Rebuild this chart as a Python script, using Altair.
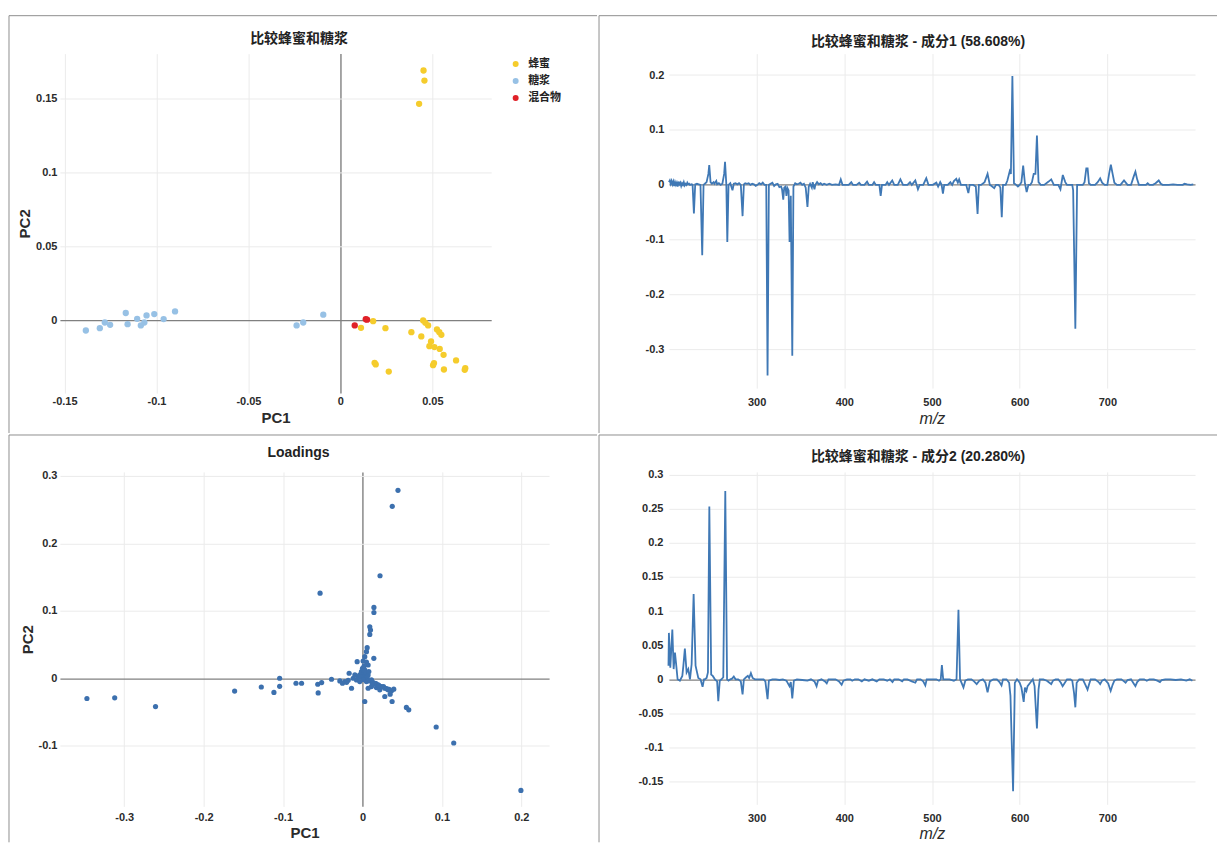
import altair as alt
import pandas as pd

# ---------------- data ----------------
group_names = ["蜂蜜", "糖浆", "混合物"]
group_colors = ["#F5CC2C", "#97C1E5", "#E02128"]

honey_pc1 = [0.0452, 0.0457, 0.0428, 0.0112, 0.0178, 0.0245, 0.0386, 0.0440, 0.0450, 0.0462,
             0.0477, 0.0525, 0.0538, 0.0549, 0.0493, 0.0484, 0.0511, 0.0540, 0.0561, 0.0629,
             0.0679, 0.0676, 0.0186, 0.0192, 0.0263, 0.0504, 0.0509, 0.0563]
honey_pc2 = [0.1686, 0.1618, 0.1461, -0.0050, -0.0005, -0.0052, -0.0079, -0.0108, 0.0000, -0.0016,
             -0.0034, -0.0061, -0.0079, -0.0097, -0.0142, -0.0174, -0.0180, -0.0192, -0.0232, -0.0270,
             -0.0322, -0.0333, -0.0286, -0.0297, -0.0345, -0.0302, -0.0288, -0.0331]
syrup_pc1 = [-0.1384, -0.1308, -0.1281, -0.1252, -0.1167, -0.1157, -0.1105, -0.1085, -0.1066,
             -0.1054, -0.1012, -0.0961, -0.0899, -0.0238, -0.0202, -0.0093]
syrup_pc2 = [-0.0068, -0.0052, -0.0014, -0.0030, 0.0050, -0.0025, 0.0011, -0.0034, -0.0014,
             0.0034, 0.0043, 0.0009, 0.0061, -0.0034, -0.0014, 0.0039]
mix_pc1 = [0.0078, 0.0138, 0.0145]
mix_pc2 = [-0.0034, 0.0008, 0.0005]

load_pc1 = [-0.347, -0.312, -0.2606, -0.161, -0.1274, -0.1115, -0.1043, -0.1043, -0.0837, -0.0767,
            -0.0563, -0.0558, -0.0514, -0.0534, -0.039, -0.0285, -0.0252, -0.0222, -0.0138, -0.0168,
            -0.0117, -0.0075, -0.0055, -0.0034, -0.0034, -0.0013, -0.0096, -0.0067, 0.0, 0.0008,
            0.0017, 0.0029, 0.0034, 0.005, 0.0071, 0.0071, 0.0071, 0.005, 0.0059, 0.0092,
            0.0101, 0.0092, 0.0143, 0.0144, 0.0144, 0.0221, 0.0375, 0.0447, 0.0113, 0.0113,
            0.0155, 0.0176, 0.0197, 0.0218, 0.0239, 0.0281, 0.0281, 0.0323, 0.0348, 0.0365,
            0.0394, 0.0373, 0.0029, 0.0553, 0.0583, 0.0928, 0.1149, 0.1995, 0.0025, 0.004,
            0.006, 0.009, -0.002, 0.001, 0.003, 0.008, -0.018, -0.02, 0.013, 0.017,
            0.002, 0.005, 0.0265, 0.0305, 0.0335, 0.0205, 0.0125]
load_pc2 = [-0.030, -0.029, -0.042, -0.019, -0.013, -0.021, 0.0, -0.012, -0.0074, -0.0074,
            -0.0089, -0.0218, -0.0064, 0.1262, -0.0015, -0.0039, -0.0074, -0.0049, -0.0148, 0.0074,
            0.0, -0.0025, 0.0025, 0.0049, -0.0049, 0.0098, 0.0049, 0.0246, 0.0148, 0.0256,
            0.0074, 0.032, 0.0, -0.0049, 0.0049, 0.0197, -0.0148, 0.0394, 0.0453, 0.065,
            0.0714, 0.0763, 0.0295, 0.0975, 0.105, 0.152, 0.255, 0.2787, -0.0025, -0.0123,
            -0.0074, -0.0138, -0.0098, -0.0172, -0.0123, -0.0148, -0.0271, -0.0172, -0.0236, -0.0187,
            -0.0162, -0.0345, -0.0345, -0.0433, -0.0468, -0.0723, -0.096, -0.1663, 0.003, 0.008,
            0.002, -0.004, 0.002, -0.002, 0.012, 0.010, -0.003, -0.006, -0.006, -0.008,
            0.018, 0.024, -0.0125, -0.0155, -0.0165, -0.0105, -0.0085]

# component 1 spectrum: (m/z, loading)
spectrum1 = [
    (200, 0.005), (201, 0.008), (202, 0.002), (203, 0.007), (204, 0.001), (205, 0.006), (206, -0.002),
    (207, 0.005), (208, 0.0), (209, 0.004), (210, -0.003), (211, 0.006), (212, 0.001), (213, 0.004),
    (214, -0.002), (215, 0.003), (216, 0.0), (217, 0.005), (218, -0.001), (219, 0.002), (220, 0.0),
    (221, 0.004), (222, 0.001), (223, 0.002), (224, 0.0), (226, 0.001), (227, 0.0), (228.5, -0.052),
    (230, 0.001), (232, 0.002), (234, 0.001), (236, 0.0), (238, -0.128), (239.5, 0.0), (241, 0.002),
    (243, 0.005), (245, 0.02), (246, 0.036), (247.5, 0.005), (249, 0.002), (251, 0.005), (252, 0.002),
    (254, 0.007), (255, 0.001), (257, 0.003), (259, 0.0), (261, 0.002), (263, 0.02), (264, 0.042),
    (265.5, 0.0), (266.6, -0.104), (268, 0.0), (270, 0.003), (272.5, -0.01), (274, 0.002), (276, 0.003),
    (278, 0.001), (280, 0.003), (282, 0.0), (284, -0.057), (285.5, 0.001), (287, 0.003), (289, 0.002),
    (291, 0.003), (293, 0.0), (295, 0.002), (297, 0.001), (299, -0.002), (301, 0.0), (303, 0.003),
    (305, 0.001), (307, 0.004), (309, 0.0), (311, 0.0), (312.5, -0.347), (314, 0.0), (316, 0.002),
    (318, 0.004), (320, -0.002), (322, 0.001), (324, 0.002), (326, -0.004), (328, -0.003), (329, -0.008),
    (330.4, -0.027), (331.5, -0.005), (333, -0.003), (334, -0.02), (335.3, -0.006), (336.5, -0.01),
    (337.6, -0.104), (339, -0.02), (340.7, -0.311), (342, -0.003), (344, 0.003), (346, 0.001),
    (348, 0.002), (350, 0.004), (352, 0.0), (354, 0.002), (356, -0.005), (358, -0.04), (359.5, -0.003),
    (361, 0.002), (363, -0.005), (364, 0.005), (366, -0.008), (367, 0.0), (369, 0.005), (371, 0.001),
    (373, 0.003), (375, 0.0), (377, 0.002), (380, 0.0), (383, 0.002), (386, 0.0), (390, 0.001),
    (394, 0.0), (396, 0.01), (398, 0.0), (402, 0.0), (405, 0.0), (408, 0.005), (410, 0.0), (414, 0.0),
    (417, 0.004), (419, 0.0), (423, 0.0), (426, 0.006), (428, 0.0), (432, 0.0), (434, 0.005), (436, 0.0),
    (440, 0.0), (441.5, -0.02), (443, 0.0), (447, 0.0), (449, 0.005), (451, 0.0), (454.7, 0.008),
    (457, 0.0), (461, 0.0), (464, 0.01), (467, 0.0), (472, 0.0), (475, 0.005), (477, 0.0), (481, 0.008),
    (484, -0.008), (486, 0.0), (490, 0.0), (493.5, 0.012), (496, 0.0), (501, 0.0), (505, 0.004),
    (507, -0.003), (509.4, 0.005), (511, 0.0), (512.5, -0.016), (514, 0.0), (518, 0.0), (521, 0.005),
    (523, 0.0), (525, 0.007), (527.7, 0.011), (529.5, 0.004), (531, 0.01), (533, 0.0), (536, 0.0),
    (539, 0.0), (541.5, -0.015), (543, 0.0), (547, 0.0), (550, -0.003), (552, -0.053), (553.5, 0.0),
    (556, 0.0), (560, 0.005), (563.4, 0.02), (566, 0.0), (568, -0.002), (571, -0.006), (573, 0.0),
    (576, 0.0), (578, -0.005), (579.6, -0.059), (581, 0.0), (584, 0.0), (586, 0.008), (588.7, 0.025),
    (590, 0.02), (591.7, 0.198), (593.5, 0.003), (596, 0.0), (598, -0.003), (600, 0.0), (602, 0.005),
    (604, 0.035), (606, 0.003), (608, -0.013), (610, 0.0), (612, 0.0), (614, 0.005), (616, 0.02),
    (618, 0.02), (619.7, 0.09), (621.5, 0.005), (624, 0.0), (628, 0.0), (633, 0.006), (636, 0.01),
    (639, 0.0), (642, 0.0), (644, 0.0), (646.5, -0.008), (649.2, 0.018), (652, 0.005), (654, 0.0),
    (657, 0.0), (660, 0.0), (661, -0.01), (663.5, -0.262), (665.5, 0.0), (668, 0.0), (672, 0.0),
    (674, 0.005), (676, 0.03), (677.5, 0.03), (679, 0.003), (681, 0.0), (686, 0.0), (689, 0.005),
    (691.8, 0.012), (694, 0.004), (697, 0.0), (700, 0.0), (702, 0.02), (704, 0.037), (706, 0.02),
    (708, 0.004), (711, 0.0), (715, 0.0), (717, 0.004), (719, 0.008), (721, 0.004), (723, 0.0),
    (727, 0.0), (730, 0.015), (732, 0.024), (734, 0.01), (736, 0.0), (740, 0.0), (744, 0.0),
    (746, 0.003), (748, 0.0), (752, 0.0), (755, 0.003), (758.6, 0.008), (761, 0.002), (763, 0.0),
    (770, 0.0), (775, 0.001), (780, 0.0), (786, 0.0), (788, 0.002), (791, 0.001), (795, 0.0), (798, 0.001),
]

# component 2 spectrum: (m/z, loading)
spectrum2 = [
    (199.5, 0.02), (200, 0.068), (201.6, 0.017), (203.9, 0.073), (205.4, 0.015), (206.9, 0.039),
    (208.4, 0.02), (209.9, 0.0), (212.5, -0.002), (215.3, 0.005), (216.5, 0.02), (218.2, 0.045),
    (220.2, 0.01), (222.1, 0.015), (224, 0.0), (225.9, 0.022), (228.2, 0.125), (230.4, 0.02),
    (233.5, 0.002), (236, 0.0), (238.4, -0.011), (240, 0.0), (241, 0.0), (243, 0.002), (244.5, 0.01),
    (246.1, 0.253), (248.2, 0.007), (250, 0.005), (252.5, 0.0), (255, -0.003), (256.3, -0.032),
    (258, -0.002), (260, 0.0), (262, 0.003), (264.3, 0.276), (266.3, 0.0), (268, -0.002), (270, 0.0),
    (272, 0.001), (274, 0.004), (276, 0.0), (279, 0.0), (282, -0.003), (284, -0.022), (285.5, 0.0),
    (288, 0.003), (290, 0.005), (291.5, 0.002), (293.5, 0.009), (295.5, 0.002), (298, 0.0), (303, 0.0),
    (308, 0.0), (310, -0.003), (312.5, -0.029), (314, -0.002), (318, 0.0), (322, 0.0), (326, -0.001),
    (330, 0.0), (334, -0.002), (337.5, -0.01), (339, -0.004), (340.7, -0.028), (342.5, -0.002),
    (346, 0.0), (352, -0.001), (358, -0.002), (362, 0.0), (366, -0.003), (368.4, -0.01), (370, -0.002),
    (374, 0.0), (378, -0.003), (380, -0.006), (382, 0.0), (386, 0.0), (390, 0.0), (394, -0.003),
    (397, -0.008), (399, -0.002), (403, 0.0), (407, 0.0), (409, -0.002), (412, 0.0), (416, 0.0),
    (420, -0.003), (423, 0.0), (428, -0.002), (432, 0.0), (437, -0.003), (440, 0.0), (445, 0.0),
    (449, -0.002), (452, 0.0), (455, -0.004), (457, 0.0), (462, 0.0), (466, -0.003), (468, 0.0),
    (472, 0.0), (477, -0.003), (481, -0.005), (483, 0.0), (487, 0.0), (490, -0.003), (492.4, -0.009),
    (494, 0.0), (500, 0.0), (505, 0.0), (508, -0.002), (510, 0.0), (511.3, 0.021), (512.8, 0.0),
    (515, 0.0), (520, 0.0), (525, -0.002), (528, 0.0), (530.2, 0.102), (532, 0.0), (534, -0.006),
    (535.9, -0.012), (538, -0.002), (541, 0.0), (545, 0.0), (548, -0.003), (551, -0.007), (554, -0.002),
    (558, 0.0), (561, -0.005), (563.4, -0.019), (566, -0.003), (570, 0.0), (574, 0.0), (577, -0.004),
    (579.3, -0.009), (581, 0.0), (585, 0.0), (588, -0.005), (589.5, -0.024), (592.5, -0.164),
    (594.5, -0.005), (597, 0.0), (600, -0.005), (602, -0.012), (604.6, -0.033), (606, -0.012),
    (607.7, -0.017), (609, -0.01), (612, -0.005), (615, 0.0), (617, -0.01), (619.7, -0.072),
    (621.5, -0.015), (623, 0.0), (627, 0.0), (631, -0.002), (634, -0.005), (636, -0.007), (638, -0.002),
    (641, 0.0), (644, 0.0), (647, -0.005), (649, -0.01), (651, -0.006), (654, 0.0), (658, 0.0),
    (660, -0.002), (662, -0.02), (663.5, -0.041), (665, -0.005), (668, 0.0), (672, 0.0), (675, -0.008),
    (677.4, -0.015), (679, -0.008), (681, 0.0), (686, 0.0), (690, -0.004), (691.8, -0.007), (694, -0.002),
    (697, 0.0), (701, -0.006), (703.8, -0.017), (706, -0.008), (708, -0.002), (711, 0.0), (716, 0.0),
    (719, -0.003), (720.8, -0.005), (723, -0.001), (727, 0.0), (730, -0.006), (732, -0.01), (734, -0.004),
    (737, 0.0), (742, 0.0), (745, -0.002), (748, 0.0), (753, 0.0), (757, -0.002), (760, -0.004),
    (762, -0.001), (766, 0.0), (772, 0.0), (778, -0.001), (784, 0.0), (790, -0.002), (794, 0.0), (797, -0.002),
]

panel_titles = ["比较蜂蜜和糖浆", "比较蜂蜜和糖浆 - 成分1 (58.608%)", "Loadings",
                "比较蜂蜜和糖浆 - 成分2 (20.280%)"]
scores_x_ticks = [-0.15, -0.1, -0.05, 0, 0.05]
scores_y_ticks = [0, 0.05, 0.1, 0.15]
load_x_ticks = [-0.3, -0.2, -0.1, 0, 0.1, 0.2]
load_y_ticks = [-0.1, 0, 0.1, 0.2, 0.3]
mz_ticks = [300, 400, 500, 600, 700]
spec1_y_ticks = [-0.3, -0.2, -0.1, 0, 0.1, 0.2]
spec2_y_ticks = [-0.15, -0.1, -0.05, 0, 0.05, 0.1, 0.15, 0.2, 0.25, 0.3]

# ---------------- tables ----------------
scores_df = pd.DataFrame({
    "PC1": honey_pc1 + syrup_pc1 + mix_pc1,
    "PC2": honey_pc2 + syrup_pc2 + mix_pc2,
    "group": [group_names[0]] * len(honey_pc1) + [group_names[1]] * len(syrup_pc1)
             + [group_names[2]] * len(mix_pc1),
})
load_df = pd.DataFrame({"PC1": load_pc1, "PC2": load_pc2})
spec1_df = pd.DataFrame(spectrum1, columns=["mz", "val"])
spec2_df = pd.DataFrame(spectrum2, columns=["mz", "val"])
one_df = pd.DataFrame({"k": [0]})

FONT = 'Liberation Sans, "Noto Sans CJK SC", sans-serif'
BORDER = "#8f8f8f"
ZERO = "#808080"
LINE = "#3F78B5"
LABEL_EXPR = "replace(format(datum.value, '~g'), '\u2212', '-')"
GRID_COLOR = {"condition": {"test": "datum.value === 0", "value": ZERO}, "value": "#ebebeb"}
GRID_WIDTH = {"condition": {"test": "datum.value === 0", "value": 1.4}, "value": 1}


def borders(left, top, right, bottom):
    base = alt.Chart(one_df)
    return [
        base.mark_rule(color=BORDER, strokeWidth=1).encode(
            x=alt.value(left), x2=alt.value(right), y=alt.value(top)),
        base.mark_rule(color=BORDER, strokeWidth=1).encode(
            x=alt.value(left), y=alt.value(top), y2=alt.value(bottom)),
        base.mark_rule(color=BORDER, strokeWidth=1, opacity=0).encode(
            x=alt.value(right), y=alt.value(top), y2=alt.value(bottom)),
        base.mark_rule(color=BORDER, strokeWidth=1, opacity=0).encode(
            x=alt.value(left), x2=alt.value(right), y=alt.value(bottom)),
    ]


def head(text, cx, cy):
    return alt.Chart(one_df).mark_text(
        text=text, font=FONT, fontSize=14, fontWeight="bold", color="#222222",
        align="center", baseline="middle").encode(x=alt.value(cx), y=alt.value(cy))


def axis(values, title, lp, tp, zero_line=False, italic=False, title_size=15):
    kw = dict(values=values, title=title, labelExpr=LABEL_EXPR, labelPadding=lp,
              titlePadding=tp, grid=True, domain=False, ticks=False, titleFontSize=title_size)
    if zero_line:
        kw.update(gridColor=GRID_COLOR, gridWidth=GRID_WIDTH)
    if italic:
        kw.update(titleFontStyle="italic", titleFontWeight="normal")
    return alt.Axis(**kw)


# ---- panel 1: scores ----
pts = alt.Chart(scores_df).mark_circle(size=40, opacity=1).encode(
    x=alt.X("PC1:Q", scale=alt.Scale(domain=[-0.1525, 0.082], nice=False, zero=False),
            axis=axis(scores_x_ticks, "PC1", 2, 4, zero_line=True)),
    y=alt.Y("PC2:Q", scale=alt.Scale(domain=[-0.049, 0.18], nice=False, zero=False),
            axis=axis(scores_y_ticks, "PC2", 3, 3, zero_line=True)),
    color=alt.Color("group:N", scale=alt.Scale(domain=group_names, range=group_colors),
                    legend=alt.Legend(orient="none", legendX=451, legendY=5, title=None,
                                      labelFont=FONT, labelFontSize=11, labelFontWeight="bold",
                                      symbolType="circle", symbolSize=36, rowPadding=5,
                                      labelOffset=7, labelColor="#222222")),
)
p1 = alt.layer(*borders(-51, -38, 538, 380), head(panel_titles[0], 239.5, -15), pts).properties(
    width=432, height=340)

# ---- panel 2: component 1 ----
line1 = alt.Chart(spec1_df).mark_line(color=LINE, strokeWidth=1.8).encode(
    x=alt.X("mz:Q", scale=alt.Scale(domain=[200, 800], nice=False, zero=False),
            axis=axis(mz_ticks, "m/z", 8, 3, italic=True, title_size=16)),
    y=alt.Y("val:Q", scale=alt.Scale(domain=[-0.37, 0.239], nice=False, zero=False),
            axis=axis(spec1_y_ticks, None, 5, 4, zero_line=True)),
)
p2 = alt.layer(*borders(-70, -38, 549, 380), head(panel_titles[1], 249.5, -11.5), line1).properties(
    width=527, height=335)

# ---- panel 3: loadings ----
lpts = alt.Chart(load_df).mark_circle(size=27, opacity=1, color="#3C70AE").encode(
    x=alt.X("PC1:Q", scale=alt.Scale(domain=[-0.381, 0.235], nice=False, zero=False),
            axis=axis(load_x_ticks, "PC1", 5, 3, zero_line=True)),
    y=alt.Y("PC2:Q", scale=alt.Scale(domain=[-0.19, 0.306], nice=False, zero=False),
            axis=axis(load_y_ticks, "PC2", 3, 3, zero_line=True)),
)
p3 = alt.layer(*borders(-51, -37, 538, 371), head(panel_titles[2], 239, -18.5), lpts).properties(
    width=490, height=335)

# ---- panel 4: component 2 ----
line2 = alt.Chart(spec2_df).mark_line(color=LINE, strokeWidth=1.8).encode(
    x=alt.X("mz:Q", scale=alt.Scale(domain=[200, 800], nice=False, zero=False),
            axis=axis(mz_ticks, "m/z", 8, 2, italic=True, title_size=16)),
    y=alt.Y("val:Q", scale=alt.Scale(domain=[-0.1832, 0.3038], nice=False, zero=False),
            axis=axis(spec2_y_ticks, None, 6, 4, zero_line=True)),
)
p4 = alt.layer(*borders(-70, -37, 549, 371), head(panel_titles[3], 249.5, -14.5), line2).properties(
    width=527, height=333)

chart = alt.vconcat(
    alt.hconcat(p1, p2, spacing=0),
    alt.hconcat(p3, p4, spacing=0),
    spacing=0,
).properties(
    padding={"left": 0, "top": 6, "right": 0, "bottom": 0},
    background="white",
).configure_view(stroke=None).configure_axis(
    labelFont=FONT, labelFontSize=11, labelFontWeight="bold", labelColor="#2b2b2b",
    titleFont=FONT, titleFontWeight="bold", titleColor="#2b2b2b",
    gridColor="#ebebeb", gridWidth=1,
).configure_concat(spacing=0)

chart.save("out.html", embed_options={"renderer": "svg", "actions": False})
